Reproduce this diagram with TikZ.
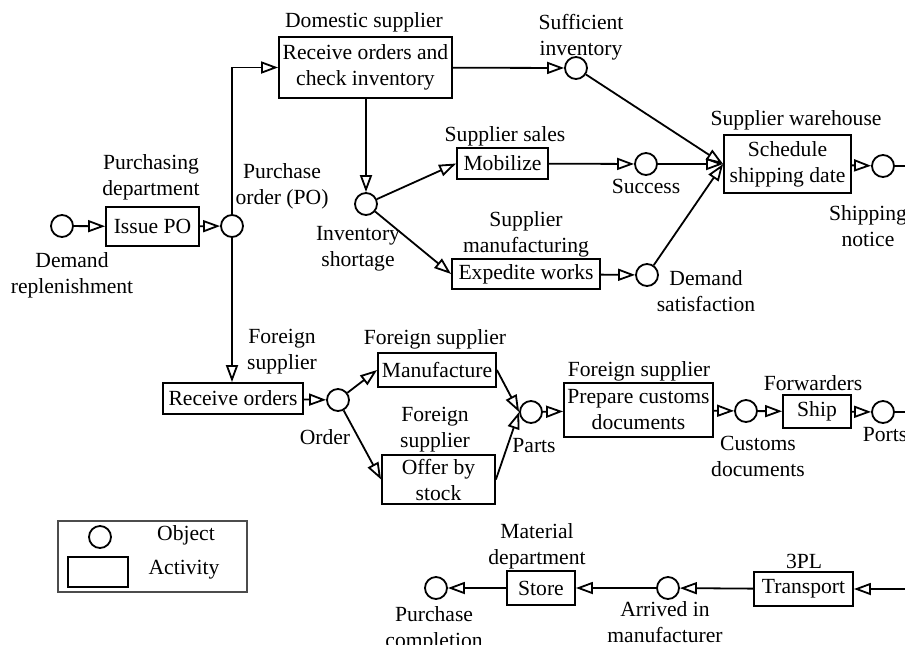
\documentclass[tikz,border=0pt]{standalone}
\usepackage{fontspec}
\setmainfont{Liberation Serif}
\usetikzlibrary{arrows.meta}

\begin{document}
\begin{tikzpicture}[x=0.5pt, y=-0.5pt,
    font=\fontsize{10.8}{13}\selectfont]
      \tikzstyle{activity} = [
        rectangle,
        draw,
        line width = 0.9pt,
        align = center,
        inner sep = 0pt
      ]

      \tikzstyle{object} = [
        circle,
        draw,
        line width = 0.9pt,
        minimum size = 11pt,
        inner sep = 0pt
      ]

      \tikzstyle{note} = [
        align = center,
        inner sep = 0pt
      ]

      \tikzstyle{flow} = [
        line width = 0.9pt,
        -{Triangle[open, length=8.5pt, width=6pt, line width=0.9pt]}
      ]

      \useasboundingbox (0,0) rectangle (905,644);

      % objects
      \node[object] (demand) at (62,226) {};
      \node[object] (po) at (232,226) {};
      \node[object] (shortage) at (366,204) {};
      \node[object] (sufficient) at (576,68) {};
      \node[object] (success) at (646,164) {};
      \node[object] (satisfied) at (647,275) {};
      \node[object] (notice) at (883,166) {};
      \node[object] (order) at (338,400) {};
      \node[object] (parts) at (531,412) {};
      \node[object] (customs) at (746,411) {};
      \node[object] (ports) at (883,412) {};
      \node[object] (arrived) at (668,588) {};
      \node[object] (completion) at (436,588) {};

      % activities
      \node[activity, minimum width=46.5pt, minimum height=19.5pt] (issue) at (152.5,226.5) {Issue PO};
      \node[activity, minimum width=86.5pt, minimum height=30.5pt] (check) at (365.5,67.5) {Receive orders and\\check inventory};
      \node[activity, minimum width=45.5pt, minimum height=15.5pt] (mobilize) at (502.5,163.5) {Mobilize};
      \node[activity, minimum width=74pt, minimum height=15pt] (expedite) at (526,274) {Expedite works};
      \node[activity, minimum width=63.5pt, minimum height=29pt] (schedule) at (787.5,164) {Schedule\\shipping date};
      \node[activity, minimum width=70pt, minimum height=15.5pt] (receive) at (233,398.5) {Receive orders};
      \node[activity, minimum width=59pt, minimum height=17pt] (manufacture) at (437,370) {Manufacture};
      \node[activity, minimum width=56.5pt, minimum height=24.5pt] (offer) at (438.5,479.5) {Offer by\\stock};
      \node[activity, minimum width=74.5pt, minimum height=27pt] (prepare) at (638.5,410) {Prepare customs\\documents};
      \node[activity, minimum width=34pt, minimum height=16.5pt] (ship) at (817,411.5) {Ship};
      \node[activity, minimum width=49.5pt, minimum height=17pt] (transport) at (803.5,589) {Transport};
      \node[activity, minimum width=34pt, minimum height=17pt] (store) at (541,588) {Store};

      % labels
      \node[note] (l demand) at (72,275) {Demand\\replenishment};
      \node[note] (l purchasing) at (151,177) {Purchasing\\department};
      \node[note] (l po) at (282,186) {Purchase\\order (PO)};
      \node[note] (l domestic) at (364,22) {Domestic supplier};
      \node[note] (l shortage) at (358,249) {Inventory\\shortage};
      \node[note] (l sufficient) at (581,37) {Sufficient\\inventory};
      \node[note] (l sales) at (505,136) {Supplier sales};
      \node[note] (l success) at (646,186) {Success};
      \node[note] (l warehouse) at (796,120) {Supplier warehouse};
      \node[note] (l notice) at (868,226) {Shipping\\notice};
      \node[note] (l mfg) at (526,234) {Supplier\\manufacturing};
      \node[note] (l satisfied) at (706,291) {Demand\\satisfaction};
      \node[note] (l foreign) at (282,352) {Foreign\\supplier};
      \node[note] (l order) at (325,437) {Order};
      \node[note] (l manufacture) at (435,339) {Foreign supplier};
      \node[note] (l offer) at (435,430) {Foreign\\supplier};
      \node[note] (l parts) at (534,446) {Parts};
      \node[note] (l prepare) at (639,371) {Foreign supplier};
      \node[note] (l customs) at (758,456) {Customs\\documents};
      \node[note] (l forwarders) at (813,383) {Forwarders};
      \node[note] (l ports) at (885,435) {Ports};
      \node[note] (l material) at (537,546) {Material\\department};
      \node[note] (l 3pl) at (804,561) {3PL};
      \node[note] (l arrived) at (665,622) {Arrived in\\manufacturer};
      \node[note] (l completion) at (434,629) {Purchase\\completion};

      % legend
      \node[draw=black!70, line width=0.6pt, minimum width=94.5pt, minimum height=35.5pt] (legend) at (152.5,556.5) {};
      \node[object] (key object) at (100,537) {};
      \node[activity, minimum width=30pt, minimum height=15pt] (key activity) at (98,572) {};
      \node[note] (l key object) at (186,535) {Object};
      \node[note] (l key activity) at (184,570) {Activity};

      \coordinate (notice out) at (915,166);
      \coordinate (ports out) at (915,412);
      \coordinate (transport in) at (915,589);

      \draw[flow] (demand) -- (issue);
      \draw[flow] (issue) -- (po);
      \draw[flow] (po) |- (check);
      \draw[flow] (po) -- (po |- receive.north);
      \draw[flow] (check) -- (sufficient);
      \draw[flow] (check.south -| shortage) -- (shortage);
      \draw[flow] (shortage) -- (mobilize.west);
      \draw[flow] (shortage) -- (expedite.west);
      \draw[flow] (mobilize) -- (success);
      \draw[flow] (expedite) -- (satisfied);
      \draw[flow] (sufficient) -- (schedule.west);
      \draw[flow] (success) -- (schedule.west);
      \draw[flow] (satisfied) -- (schedule.west);
      \draw[flow] (schedule) -- (notice);
      \draw[line width=0.9pt] (notice) -- (notice out);
      \draw[flow] (receive) -- (order);
      \draw[flow] (order) -- (manufacture.west);
      \draw[flow] (order) -- (offer.west);
      \draw[flow] (manufacture.east) -- (parts.west);
      \draw[flow] (offer.east) -- (parts.west);
      \draw[flow] (parts) -- (prepare);
      \draw[flow] (prepare) -- (customs);
      \draw[flow] (customs) -- (ship);
      \draw[flow] (ship) -- (ports);
      \draw[line width=0.9pt] (ports) -- (ports out);
      \draw[flow] (transport in) -- (transport);
      \draw[flow] (transport) -- (arrived);
      \draw[flow] (arrived) -- (store);
      \draw[flow] (store) -- (completion);
    \end{tikzpicture}
\end{document}
